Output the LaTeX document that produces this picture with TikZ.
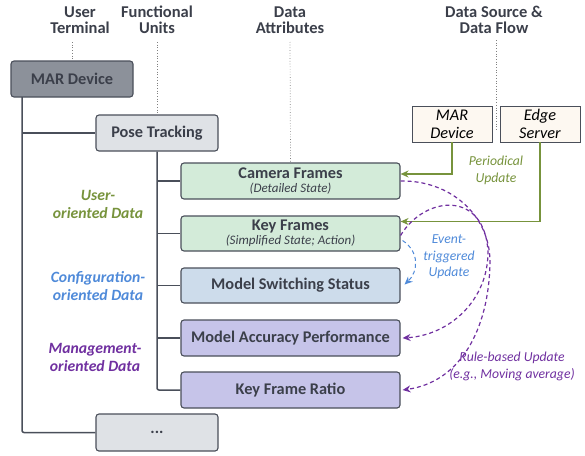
\documentclass[tikz,border=0pt]{standalone}
\usepackage{fontspec}
\setmainfont{Carlito}
\usetikzlibrary{arrows.meta}
\definecolor{txt}{HTML}{3B3F4A}
\definecolor{edge}{HTML}{4A4F5A}
\definecolor{marfill}{HTML}{8C919A}
\definecolor{grayfill}{HTML}{DFE2E6}
\definecolor{greenfill}{HTML}{D3EBD9}
\definecolor{bluefill}{HTML}{CDDCEB}
\definecolor{purplefill}{HTML}{C6C4E9}
\definecolor{srcfill}{HTML}{FDF8F1}
\definecolor{gline}{HTML}{77933C}
\definecolor{bline}{HTML}{4F8AD9}
\definecolor{pline}{HTML}{7030A0}
\newcommand\subfnt{\fontsize{13}{14}\selectfont\mdseries\itshape}
\begin{document}
\begin{tikzpicture}[x=1pt,y=-1pt,
  header/.style={font=\fontsize{16.5}{16.5}\selectfont\bfseries, text=txt, align=center},
  box/.style={draw=edge, line width=1.1pt, rounded corners=3pt, minimum height=36pt, text=txt,
    font=\fontsize{16.3}{17}\selectfont\bfseries, align=center, inner sep=0pt},
  unitbox/.style={box, fill=grayfill, minimum width=122pt},
  attrbox/.style={box, minimum width=219pt},
  srcbox/.style={draw=edge, line width=0.9pt, fill=srcfill, minimum width=80pt, minimum height=36pt,
    text=black, font=\fontsize{16.3}{18}\selectfont\itshape, align=center, inner sep=0pt},
  tree/.style={draw=edge, line width=1.5pt, rounded corners=2pt},
  dotline/.style={draw=gray, dotted, line width=0.7pt},
  garrow/.style={draw=gline, line width=1.4pt, -{Stealth[length=8pt,width=7pt]}},
  parrow/.style={draw=pline, dashed, line width=1.2pt, dash pattern=on 4pt off 3pt, -{Stealth[length=8pt,width=7pt]}},
  barrow/.style={draw=bline, dashed, line width=1pt, dash pattern=on 4pt off 3pt, -{Stealth[length=8pt,width=7pt]}},
  catlabel/.style={font=\fontsize{15.7}{18}\selectfont\bfseries\itshape, align=center},
  flowlabel/.style={font=\fontsize{13.7}{17}\selectfont\itshape, align=center}
]
\useasboundingbox (0,0) rectangle (585,455);

% headers
\node[header] (h1) at (80,20) {User\\Terminal};
\node[header] (h2) at (157,20) {Functional\\Units};
\node[header] (h3) at (290,20) {Data\\Attributes};
\node[header] (h4) at (494,20) {Data Source \&\\Data Flow};

% boxes
\node[box, fill=marfill, minimum width=122pt] (mar) at (72,79) {MAR Device};
\node[unitbox] (pose) at (157,133) {Pose Tracking};
\node[unitbox, minimum height=37pt] (dots) at (157,432.5) {...};

\node[attrbox, fill=greenfill] (cam) at (290.5,181) {Camera Frames\\[-3pt]{\subfnt (Detailed State)}};
\node[attrbox, fill=greenfill, minimum height=35pt] (key) at (290.5,233.5) {Key Frames\\[-3pt]{\subfnt (Simplified State; Action)}};
\node[attrbox, fill=bluefill, minimum height=35pt] (msw) at (290.5,285.5) {Model Switching Status};
\node[attrbox, fill=purplefill] (acc) at (290.5,338) {Model Accuracy Performance};
\node[attrbox, fill=purplefill] (kfr) at (290.5,390) {Key Frame Ratio};

\node[srcbox] (src1) at (452,124) {MAR\\Device};
\node[srcbox] (src2) at (540,124) {Edge\\Server};

% dotted guide lines
\coordinate (d1) at (72,42);
\draw[dotline] (d1) -- (mar.north);
\coordinate (d2) at (157,42);
\draw[dotline] (d2) -- (pose.north);
\coordinate (d3) at (290,42);
\draw[dotline] (d3) -- (cam.north);
\coordinate (d4) at (496,40);
\coordinate (d4e) at (496,130);
\draw[dotline] (d4) -- (d4e);

% tree
\coordinate (trunk) at (22,97);
\draw[tree] (trunk) |- (dots.west);
\draw[tree] (trunk |- pose.west) -- (pose.west);
\draw[tree] (pose.south) |- (kfr.west);
\draw[tree] (pose.south |- cam.west) -- (cam.west);
\draw[tree] (pose.south |- key.west) -- (key.west);
\draw[tree] (pose.south |- msw.west) -- (msw.west);
\draw[tree] (pose.south |- acc.west) -- (acc.west);

% category labels
\node[catlabel, text=gline] (lu) at (98,204) {User-\\oriented Data};
\node[catlabel, text=bline] (lc) at (98,286) {Configuration-\\oriented Data};
\node[catlabel, text=pline] (lm) at (95,357) {Management-\\oriented Data};

% periodical updates
\draw[garrow] (src1.south) |- ([yshift=7pt]cam.east);
\draw[garrow] (src2.south) |- ([yshift=12pt]key.east);
\node[flowlabel, text=gline] (pl) at (496,170) {Periodical\\Update};

% event-triggered
\draw[barrow] ([xshift=2pt,yshift=-7pt]key.east) .. controls (420,252) and (418,272) .. ([xshift=4pt,yshift=1pt]msw.east);
\node[flowlabel, text=bline, font=\fontsize{13.7}{16.5}\selectfont\itshape] (el) at (449,257) {Event-\\triggered\\Update};

% rule-based
\draw[parrow] (cam.east) .. controls (450,180) and (490,215) .. (490,262) .. controls (489,330) and (460,382) .. ([xshift=2pt]kfr.east);
\draw[parrow] ([yshift=-2pt]key.east) .. controls (425,195) and (485,190) .. (488,252) .. controls (488,300) and (450,335) .. ([xshift=2pt]acc.east);
\node[flowlabel, text=pline] (rl) at (512,366) {Rule-based Update\\(e.g., Moving average)};
\end{tikzpicture}
\end{document}
